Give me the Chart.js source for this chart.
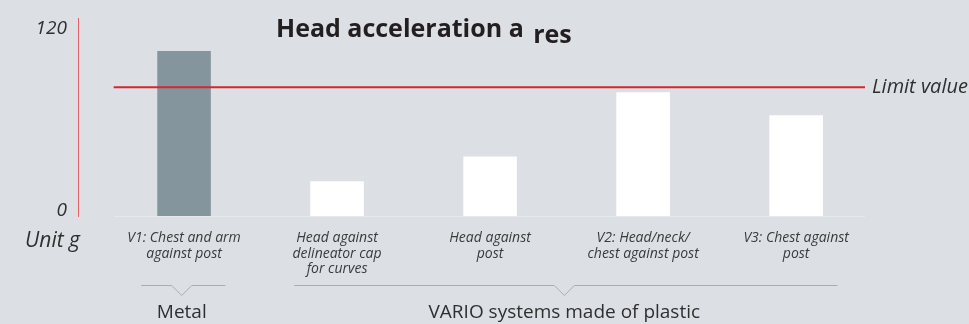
<!DOCTYPE html>
<html>
<head>
<meta charset="utf-8">
<script src="https://cdn.jsdelivr.net/npm/chart.js@4.4.1/dist/chart.umd.min.js"></script>
<style>
  html, body { margin: 0; padding: 0; background: #dce0e4; }
  #wrap { width: 969px; height: 324px; position: relative; }
</style>
</head>
<body>
<div id="wrap"><canvas id="chart"></canvas></div>
<script>
// values
const categories = [
  ['V1: Chest and arm', 'against post'],
  ['Head against', 'delineator cap', 'for curves'],
  ['Head against', 'post'],
  ['V2: Head/neck/', 'chest against post'],
  ['V3: Chest against', 'post']
];
const values = [100, 21, 36, 75, 61];
const groupOf = [0, 1, 1, 1, 1];
const groupLabels = ['Metal', 'VARIO systems made of plastic'];
const limitValue = 78;
const yTicks = [0, 120];
const titleMain = 'Head acceleration a';
const titleSub = 'res';
const unitLabel = 'Unit g';
const limitLabel = 'Limit value';

const FONT = "'Open Sans', 'Noto Sans', sans-serif";
const TEXT = '#2f2f2f';
const RED = '#d9252e';

const decor = {
  id: 'decor',
  beforeDatasetsDraw(chart) {
    const { ctx, scales: { x, y } } = chart;
    const y0 = Math.round(y.getPixelForValue(0)) + 0.5;
    ctx.save();
    ctx.strokeStyle = '#e6e9ec';
    ctx.lineWidth = 1;
    ctx.beginPath();
    ctx.moveTo(x.getPixelForValue(-0.46), y0);
    ctx.lineTo(x.right, y0);
    ctx.stroke();
    ctx.restore();
  },
  afterDatasetsDraw(chart) {
    const { ctx, scales: { x, y } } = chart;
    const ly = y.getPixelForValue(limitValue);
    ctx.save();
    ctx.strokeStyle = RED;
    ctx.lineWidth = 2;
    ctx.beginPath();
    ctx.moveTo(x.getPixelForValue(-0.46), ly);
    ctx.lineTo(x.right, ly);
    ctx.stroke();
    ctx.restore();
  },
  afterDraw(chart) {
    const { ctx, chartArea, scales: { x, y } } = chart;
    ctx.save();

    // limit label
    ctx.fillStyle = TEXT;
    ctx.font = 'italic 20px ' + FONT;
    ctx.textAlign = 'left';
    ctx.textBaseline = 'middle';
    ctx.fillText(limitLabel, x.right + 7, y.getPixelForValue(limitValue));

    // y tick labels, placed inside the axis ends
    ctx.font = 'italic 19px ' + FONT;
    ctx.textAlign = 'right';
    yTicks.forEach(v => {
      const py = y.getPixelForValue(v);
      if (v === y.max) {
        ctx.textBaseline = 'top';
        ctx.fillText(String(v), chartArea.left - 11, py + 1);
      } else {
        ctx.textBaseline = 'alphabetic';
        ctx.fillText(String(v), chartArea.left - 11, py);
      }
    });

    // unit
    ctx.font = 'italic 21px ' + FONT;
    ctx.textBaseline = 'alphabetic';
    ctx.fillText(unitLabel, chartArea.left + 2, chartArea.bottom + 31);

    // title with subscript
    ctx.fillStyle = '#231f20';
    ctx.font = 'bold 25px ' + FONT;
    ctx.textAlign = 'left';
    const tx = 276;
    ctx.fillText(titleMain, tx, 37);
    const w = ctx.measureText(titleMain + ' ').width;
    ctx.fillText(titleSub, tx + w + 3, 43);

    // group brackets
    const by = Math.round(chartArea.bottom + 69) + 0.5;
    groupLabels.forEach((label, g) => {
      const idx = groupOf.map((gg, i) => gg === g ? i : -1).filter(i => i >= 0);
      const from = Math.min(...idx), to = Math.max(...idx);
      const x0 = x.getPixelForValue(from - 0.28);
      const x1 = x.getPixelForValue(to + 0.27);
      const xc = x.getPixelForValue((from + to) / 2 - 0.015);
      ctx.strokeStyle = '#a8adb2';
      ctx.lineWidth = 1;
      ctx.beginPath();
      ctx.moveTo(x0, by);
      ctx.lineTo(xc - 10, by);
      ctx.lineTo(xc, by + 10);
      ctx.lineTo(xc + 10, by);
      ctx.lineTo(x1, by);
      ctx.stroke();
      ctx.fillStyle = TEXT;
      ctx.font = '19px ' + FONT;
      ctx.textAlign = 'center';
      ctx.textBaseline = 'middle';
      ctx.fillText(label, xc, by + 27);
    });
    ctx.restore();
  }
};

new Chart(document.getElementById('chart'), {
  type: 'bar',
  data: {
    datasets: [{
      data: values.map((v, i) => ({ x: i, y: v })),
      backgroundColor: groupOf.map(g => g === 0 ? '#84959e' : '#ffffff'),
      borderWidth: 0,
      barPercentage: 0.35,
      categoryPercentage: 1
    }]
  },
  options: {
    responsive: true,
    maintainAspectRatio: false,
    animation: false,
    layout: { padding: { top: 18, right: 104, left: 0, bottom: 0 } },
    plugins: { legend: { display: false }, tooltip: { enabled: false }, title: { display: false } },
    scales: {
      x: {
        type: 'linear',
        offset: false,
        min: -0.693,
        max: 4.45,
        afterBuildTicks: s => { s.ticks = categories.map((c, i) => ({ value: i })); },
        afterFit: s => { s.height = 108; },
        grid: { display: false, drawTicks: false },
        border: { display: false },
        ticks: {
          padding: 14,
          color: '#3a3a3a',
          font: { family: FONT, size: 14, style: 'italic', lineHeight: 1.12 },
          maxRotation: 0,
          autoSkip: false,
          callback: v => categories[v]
        }
      },
      y: {
        min: 0,
        max: yTicks[yTicks.length - 1],
        afterFit: s => { s.width = 78; },
        grid: { display: false, drawTicks: false },
        border: { display: true, color: '#e8616a', width: 1 },
        ticks: { display: false }
      }
    }
  },
  plugins: [decor]
});
</script>
</body>
</html>
